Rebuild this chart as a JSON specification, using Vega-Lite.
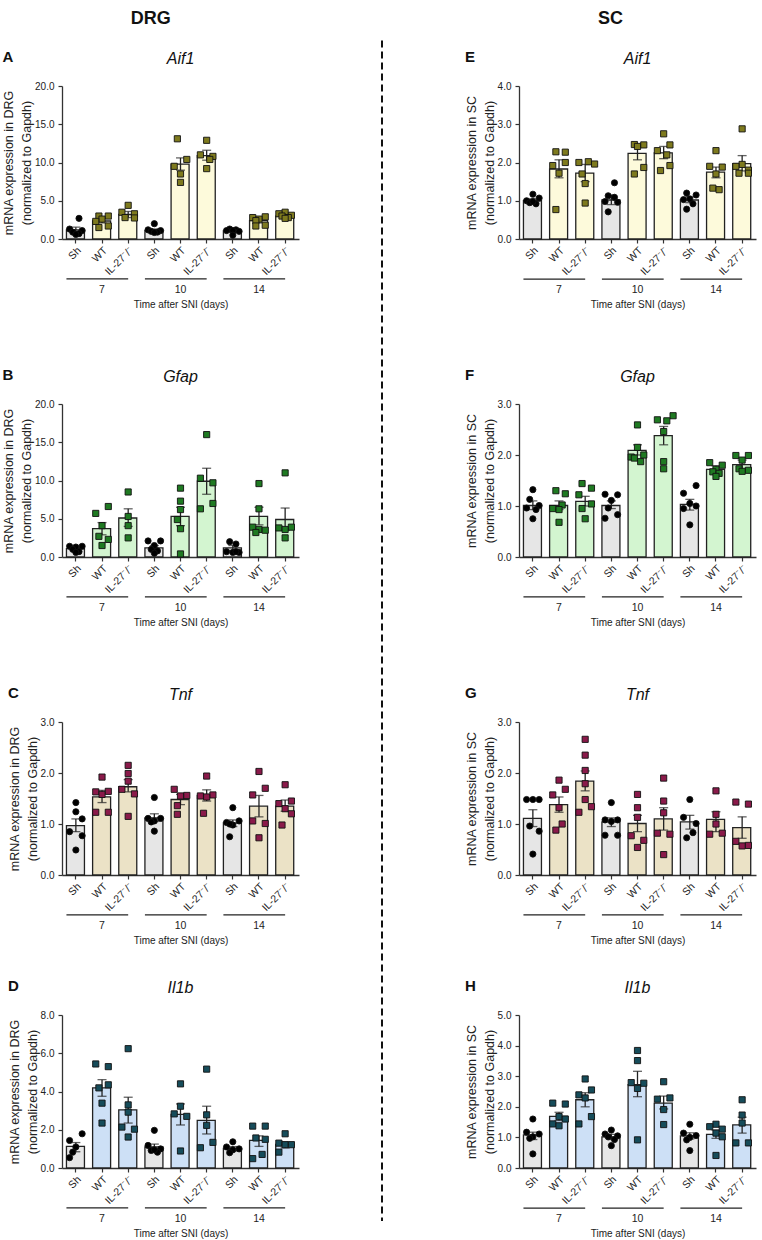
{
"$schema":"https://vega.github.io/schema/vega-lite/v6.json",
"padding":{"left":2,"top":10,"right":2,"bottom":2},
"background":"white",
"config":{"font":"Liberation Sans","view":{"stroke":null},
"axis":{"domainColor":"#333","domainWidth":1.3,"tickColor":"#333","tickWidth":1.2,"tickSize":4,"labelFontSize":10.5,"labelColor":"#222","titleColor":"#222","titleFontWeight":"normal","grid":false,"labelFont":"Liberation Sans","titleFont":"Liberation Sans"},
"axisY":{"titleFontSize":12.5,"titlePadding":1,"labelPadding":4,"labelFontSize":10,"titleLineHeight":18,"labelOverlap":false,"labelSeparation":-30,"labelFlush":false,"labelBound":false},
"axisX":{"labelAngle":-45,"titleFontSize":10,"titlePadding":22,"labelPadding":2},
"title":{"font":"Liberation Sans","color":"#111"}},
"datasets":{
"grp":[{"d":"7","a":"7|Sh","b":"7|IL","c":"7|WT"},{"d":"10","a":"10|Sh","b":"10|IL","c":"10|WT"},{"d":"14","a":"14|Sh","b":"14|IL","c":"14|WT"}],
"bars":[
{"p":"A","k":"7|Sh","g":"Sh","m":1.2,"lo":0.9,"hi":1.55},{"p":"A","k":"7|WT","g":"WT","m":2.35,"lo":2.1,"hi":2.7},{"p":"A","k":"7|IL","g":"IL","m":3.2,"lo":2.8,"hi":3.6},
{"p":"A","k":"10|Sh","g":"Sh","m":1.1,"lo":0.95,"hi":1.3},{"p":"A","k":"10|WT","g":"WT","m":9.8,"lo":9.0,"hi":10.6},{"p":"A","k":"10|IL","g":"IL","m":10.9,"lo":10.3,"hi":11.6},
{"p":"A","k":"14|Sh","g":"Sh","m":1.05,"lo":0.9,"hi":1.2},{"p":"A","k":"14|WT","g":"WT","m":2.4,"lo":2.1,"hi":2.7},{"p":"A","k":"14|IL","g":"IL","m":3.0,"lo":2.8,"hi":3.2},
{"p":"B","k":"7|Sh","g":"Sh","m":1.1,"lo":0.9,"hi":1.3},{"p":"B","k":"7|WT","g":"WT","m":3.7,"lo":2.9,"hi":4.5},{"p":"B","k":"7|IL","g":"IL","m":5.1,"lo":4.0,"hi":6.3},
{"p":"B","k":"10|Sh","g":"Sh","m":1.2,"lo":0.8,"hi":1.5},{"p":"B","k":"10|WT","g":"WT","m":5.3,"lo":4.1,"hi":6.5},{"p":"B","k":"10|IL","g":"IL","m":9.9,"lo":8.2,"hi":11.6},
{"p":"B","k":"14|Sh","g":"Sh","m":1.2,"lo":0.8,"hi":1.5},{"p":"B","k":"14|WT","g":"WT","m":5.3,"lo":4.2,"hi":6.5},{"p":"B","k":"14|IL","g":"IL","m":4.9,"lo":3.5,"hi":6.4},
{"p":"C","k":"7|Sh","g":"Sh","m":0.97,"lo":0.85,"hi":1.1},{"p":"C","k":"7|WT","g":"WT","m":1.53,"lo":1.42,"hi":1.66},{"p":"C","k":"7|IL","g":"IL","m":1.73,"lo":1.63,"hi":1.87},
{"p":"C","k":"10|Sh","g":"Sh","m":1.12,"lo":1.05,"hi":1.2},{"p":"C","k":"10|WT","g":"WT","m":1.48,"lo":1.38,"hi":1.58},{"p":"C","k":"10|IL","g":"IL","m":1.56,"lo":1.45,"hi":1.67},
{"p":"C","k":"14|Sh","g":"Sh","m":1.02,"lo":0.95,"hi":1.08},{"p":"C","k":"14|WT","g":"WT","m":1.35,"lo":1.14,"hi":1.56},{"p":"C","k":"14|IL","g":"IL","m":1.35,"lo":1.25,"hi":1.47},
{"p":"D","k":"7|Sh","g":"Sh","m":1.13,"lo":0.85,"hi":1.33},{"p":"D","k":"7|WT","g":"WT","m":4.19,"lo":3.75,"hi":4.62},{"p":"D","k":"7|IL","g":"IL","m":3.04,"lo":2.35,"hi":3.7},
{"p":"D","k":"10|Sh","g":"Sh","m":1.1,"lo":0.95,"hi":1.25},{"p":"D","k":"10|WT","g":"WT","m":2.8,"lo":2.25,"hi":3.35},{"p":"D","k":"10|IL","g":"IL","m":2.49,"lo":1.78,"hi":3.23},
{"p":"D","k":"14|Sh","g":"Sh","m":1.02,"lo":0.9,"hi":1.12},{"p":"D","k":"14|WT","g":"WT","m":1.44,"lo":1.13,"hi":1.68},{"p":"D","k":"14|IL","g":"IL","m":1.23,"lo":1.05,"hi":1.35},
{"p":"E","k":"7|Sh","g":"Sh","m":1.0,"lo":0.95,"hi":1.05},{"p":"E","k":"7|WT","g":"WT","m":1.83,"lo":1.6,"hi":2.07},{"p":"E","k":"7|IL","g":"IL","m":1.72,"lo":1.5,"hi":1.95},
{"p":"E","k":"10|Sh","g":"Sh","m":1.02,"lo":0.9,"hi":1.15},{"p":"E","k":"10|WT","g":"WT","m":2.24,"lo":2.07,"hi":2.42},{"p":"E","k":"10|IL","g":"IL","m":2.25,"lo":2.1,"hi":2.42},
{"p":"E","k":"14|Sh","g":"Sh","m":1.02,"lo":0.95,"hi":1.1},{"p":"E","k":"14|WT","g":"WT","m":1.75,"lo":1.6,"hi":1.88},{"p":"E","k":"14|IL","g":"IL","m":1.97,"lo":1.78,"hi":2.18},
{"p":"F","k":"7|Sh","g":"Sh","m":1.01,"lo":0.93,"hi":1.1},{"p":"F","k":"7|WT","g":"WT","m":1.01,"lo":0.93,"hi":1.1},{"p":"F","k":"7|IL","g":"IL","m":1.09,"lo":1.0,"hi":1.19},
{"p":"F","k":"10|Sh","g":"Sh","m":1.01,"lo":0.95,"hi":1.1},{"p":"F","k":"10|WT","g":"WT","m":2.09,"lo":2.0,"hi":2.2},{"p":"F","k":"10|IL","g":"IL","m":2.38,"lo":2.2,"hi":2.56},
{"p":"F","k":"14|Sh","g":"Sh","m":1.03,"lo":0.92,"hi":1.13},{"p":"F","k":"14|WT","g":"WT","m":1.72,"lo":1.65,"hi":1.79},{"p":"F","k":"14|IL","g":"IL","m":1.81,"lo":1.72,"hi":1.9},
{"p":"G","k":"7|Sh","g":"Sh","m":1.11,"lo":0.95,"hi":1.28},{"p":"G","k":"7|WT","g":"WT","m":1.38,"lo":1.23,"hi":1.53},{"p":"G","k":"7|IL","g":"IL","m":1.84,"lo":1.65,"hi":2.04},
{"p":"G","k":"10|Sh","g":"Sh","m":1.04,"lo":0.95,"hi":1.12},{"p":"G","k":"10|WT","g":"WT","m":1.01,"lo":0.85,"hi":1.17},{"p":"G","k":"10|IL","g":"IL","m":1.1,"lo":0.88,"hi":1.32},
{"p":"G","k":"14|Sh","g":"Sh","m":1.04,"lo":0.9,"hi":1.17},{"p":"G","k":"14|WT","g":"WT","m":1.09,"lo":0.85,"hi":1.24},{"p":"G","k":"14|IL","g":"IL","m":0.93,"lo":0.72,"hi":1.14},
{"p":"H","k":"7|Sh","g":"Sh","m":1.08,"lo":0.93,"hi":1.17},{"p":"H","k":"7|WT","g":"WT","m":1.69,"lo":1.55,"hi":1.82},{"p":"H","k":"7|IL","g":"IL","m":2.23,"lo":2.0,"hi":2.46},
{"p":"H","k":"10|Sh","g":"Sh","m":1.02,"lo":0.93,"hi":1.1},{"p":"H","k":"10|WT","g":"WT","m":2.72,"lo":2.33,"hi":3.16},{"p":"H","k":"10|IL","g":"IL","m":2.12,"lo":1.93,"hi":2.35},
{"p":"H","k":"14|Sh","g":"Sh","m":1.05,"lo":0.95,"hi":1.15},{"p":"H","k":"14|WT","g":"WT","m":1.1,"lo":0.97,"hi":1.24},{"p":"H","k":"14|IL","g":"IL","m":1.41,"lo":1.14,"hi":1.66}
],
"pts":[
{"p":"A","k":"7|Sh","g":"Sh","v":2.7,"r":5},{"p":"A","k":"7|Sh","g":"Sh","v":1.3,"r":2},{"p":"A","k":"7|Sh","g":"Sh","v":1.1,"r":6},{"p":"A","k":"7|Sh","g":"Sh","v":0.9,"r":3},{"p":"A","k":"7|Sh","g":"Sh","v":0.7,"r":5},{"p":"A","k":"7|Sh","g":"Sh","v":0.6,"r":4},
{"p":"A","k":"7|WT","g":"WT","v":3.0,"r":3},{"p":"A","k":"7|WT","g":"WT","v":3.0,"r":6},{"p":"A","k":"7|WT","g":"WT","v":2.6,"r":4},{"p":"A","k":"7|WT","g":"WT","v":2.3,"r":2},{"p":"A","k":"7|WT","g":"WT","v":1.7,"r":6},{"p":"A","k":"7|WT","g":"WT","v":1.5,"r":3},
{"p":"A","k":"7|IL","g":"IL","v":4.4,"r":4},{"p":"A","k":"7|IL","g":"IL","v":3.5,"r":2},{"p":"A","k":"7|IL","g":"IL","v":3.3,"r":6},{"p":"A","k":"7|IL","g":"IL","v":2.8,"r":3},{"p":"A","k":"7|IL","g":"IL","v":2.75,"r":6},
{"p":"A","k":"10|Sh","g":"Sh","v":2.0,"r":4},{"p":"A","k":"10|Sh","g":"Sh","v":1.2,"r":2},{"p":"A","k":"10|Sh","g":"Sh","v":1.1,"r":6},{"p":"A","k":"10|Sh","g":"Sh","v":1.0,"r":3},{"p":"A","k":"10|Sh","g":"Sh","v":0.9,"r":5},{"p":"A","k":"10|Sh","g":"Sh","v":0.85,"r":4},
{"p":"A","k":"10|WT","g":"WT","v":13.1,"r":3},{"p":"A","k":"10|WT","g":"WT","v":10.4,"r":6},{"p":"A","k":"10|WT","g":"WT","v":9.5,"r":2},{"p":"A","k":"10|WT","g":"WT","v":8.5,"r":4},{"p":"A","k":"10|WT","g":"WT","v":7.4,"r":4},
{"p":"A","k":"10|IL","g":"IL","v":12.9,"r":4},{"p":"A","k":"10|IL","g":"IL","v":11.0,"r":2},{"p":"A","k":"10|IL","g":"IL","v":10.8,"r":6},{"p":"A","k":"10|IL","g":"IL","v":10.4,"r":5},{"p":"A","k":"10|IL","g":"IL","v":9.2,"r":4},
{"p":"A","k":"14|Sh","g":"Sh","v":1.3,"r":3},{"p":"A","k":"14|Sh","g":"Sh","v":1.2,"r":5},{"p":"A","k":"14|Sh","g":"Sh","v":1.1,"r":2},{"p":"A","k":"14|Sh","g":"Sh","v":1.0,"r":6},{"p":"A","k":"14|Sh","g":"Sh","v":1.1,"r":4},{"p":"A","k":"14|Sh","g":"Sh","v":0.5,"r":4},
{"p":"A","k":"14|WT","g":"WT","v":2.9,"r":6},{"p":"A","k":"14|WT","g":"WT","v":2.8,"r":2},{"p":"A","k":"14|WT","g":"WT","v":2.6,"r":4},{"p":"A","k":"14|WT","g":"WT","v":2.4,"r":3},{"p":"A","k":"14|WT","g":"WT","v":1.8,"r":6},{"p":"A","k":"14|WT","g":"WT","v":1.7,"r":3},
{"p":"A","k":"14|IL","g":"IL","v":3.5,"r":4},{"p":"A","k":"14|IL","g":"IL","v":3.3,"r":2},{"p":"A","k":"14|IL","g":"IL","v":3.1,"r":6},{"p":"A","k":"14|IL","g":"IL","v":3.0,"r":3},{"p":"A","k":"14|IL","g":"IL","v":2.8,"r":5},{"p":"A","k":"14|IL","g":"IL","v":2.7,"r":4},
{"p":"B","k":"7|Sh","g":"Sh","v":1.4,"r":2},{"p":"B","k":"7|Sh","g":"Sh","v":1.4,"r":6},{"p":"B","k":"7|Sh","g":"Sh","v":1.3,"r":4},{"p":"B","k":"7|Sh","g":"Sh","v":1.0,"r":3},{"p":"B","k":"7|Sh","g":"Sh","v":0.7,"r":5},{"p":"B","k":"7|Sh","g":"Sh","v":0.6,"r":4},
{"p":"B","k":"7|WT","g":"WT","v":6.6,"r":6},{"p":"B","k":"7|WT","g":"WT","v":5.7,"r":2},{"p":"B","k":"7|WT","g":"WT","v":4.1,"r":4},{"p":"B","k":"7|WT","g":"WT","v":2.7,"r":3},{"p":"B","k":"7|WT","g":"WT","v":2.3,"r":6},{"p":"B","k":"7|WT","g":"WT","v":1.5,"r":4},
{"p":"B","k":"7|IL","g":"IL","v":8.5,"r":4},{"p":"B","k":"7|IL","g":"IL","v":5.3,"r":4},{"p":"B","k":"7|IL","g":"IL","v":4.1,"r":4},{"p":"B","k":"7|IL","g":"IL","v":2.5,"r":4},
{"p":"B","k":"10|Sh","g":"Sh","v":2.1,"r":2},{"p":"B","k":"10|Sh","g":"Sh","v":2.1,"r":6},{"p":"B","k":"10|Sh","g":"Sh","v":1.5,"r":4},{"p":"B","k":"10|Sh","g":"Sh","v":1.0,"r":3},{"p":"B","k":"10|Sh","g":"Sh","v":0.8,"r":5},{"p":"B","k":"10|Sh","g":"Sh","v":0.5,"r":4},
{"p":"B","k":"10|WT","g":"WT","v":9.0,"r":4},{"p":"B","k":"10|WT","g":"WT","v":7.3,"r":4},{"p":"B","k":"10|WT","g":"WT","v":6.2,"r":4},{"p":"B","k":"10|WT","g":"WT","v":4.9,"r":3},{"p":"B","k":"10|WT","g":"WT","v":3.7,"r":4},{"p":"B","k":"10|WT","g":"WT","v":0.4,"r":4},
{"p":"B","k":"10|IL","g":"IL","v":16.0,"r":4},{"p":"B","k":"10|IL","g":"IL","v":10.3,"r":2},{"p":"B","k":"10|IL","g":"IL","v":9.7,"r":6},{"p":"B","k":"10|IL","g":"IL","v":7.0,"r":6},{"p":"B","k":"10|IL","g":"IL","v":6.3,"r":2},
{"p":"B","k":"14|Sh","g":"Sh","v":2.0,"r":3},{"p":"B","k":"14|Sh","g":"Sh","v":1.7,"r":5},{"p":"B","k":"14|Sh","g":"Sh","v":0.7,"r":2},{"p":"B","k":"14|Sh","g":"Sh","v":0.6,"r":4},{"p":"B","k":"14|Sh","g":"Sh","v":0.6,"r":6},{"p":"B","k":"14|Sh","g":"Sh","v":0.7,"r":5},
{"p":"B","k":"14|WT","g":"WT","v":9.6,"r":4},{"p":"B","k":"14|WT","g":"WT","v":6.3,"r":4},{"p":"B","k":"14|WT","g":"WT","v":3.9,"r":2},{"p":"B","k":"14|WT","g":"WT","v":3.6,"r":4},{"p":"B","k":"14|WT","g":"WT","v":3.2,"r":3},{"p":"B","k":"14|WT","g":"WT","v":3.5,"r":6},
{"p":"B","k":"14|IL","g":"IL","v":11.0,"r":4},{"p":"B","k":"14|IL","g":"IL","v":3.9,"r":6},{"p":"B","k":"14|IL","g":"IL","v":3.8,"r":2},{"p":"B","k":"14|IL","g":"IL","v":3.6,"r":4},{"p":"B","k":"14|IL","g":"IL","v":2.5,"r":4},
{"p":"C","k":"7|Sh","g":"Sh","v":1.42,"r":4},{"p":"C","k":"7|Sh","g":"Sh","v":1.24,"r":4},{"p":"C","k":"7|Sh","g":"Sh","v":1.1,"r":6},{"p":"C","k":"7|Sh","g":"Sh","v":0.85,"r":2},{"p":"C","k":"7|Sh","g":"Sh","v":0.77,"r":6},{"p":"C","k":"7|Sh","g":"Sh","v":0.49,"r":4},
{"p":"C","k":"7|WT","g":"WT","v":1.92,"r":4},{"p":"C","k":"7|WT","g":"WT","v":1.64,"r":6},{"p":"C","k":"7|WT","g":"WT","v":1.63,"r":2},{"p":"C","k":"7|WT","g":"WT","v":1.58,"r":4},{"p":"C","k":"7|WT","g":"WT","v":1.23,"r":2},{"p":"C","k":"7|WT","g":"WT","v":1.23,"r":6},
{"p":"C","k":"7|IL","g":"IL","v":2.15,"r":4},{"p":"C","k":"7|IL","g":"IL","v":1.99,"r":4},{"p":"C","k":"7|IL","g":"IL","v":1.84,"r":4},{"p":"C","k":"7|IL","g":"IL","v":1.68,"r":2},{"p":"C","k":"7|IL","g":"IL","v":1.59,"r":6},{"p":"C","k":"7|IL","g":"IL","v":1.15,"r":4},
{"p":"C","k":"10|Sh","g":"Sh","v":1.52,"r":4},{"p":"C","k":"10|Sh","g":"Sh","v":1.11,"r":2},{"p":"C","k":"10|Sh","g":"Sh","v":1.11,"r":6},{"p":"C","k":"10|Sh","g":"Sh","v":1.06,"r":4},{"p":"C","k":"10|Sh","g":"Sh","v":1.04,"r":3},{"p":"C","k":"10|Sh","g":"Sh","v":0.86,"r":4},
{"p":"C","k":"10|WT","g":"WT","v":1.68,"r":2},{"p":"C","k":"10|WT","g":"WT","v":1.56,"r":6},{"p":"C","k":"10|WT","g":"WT","v":1.55,"r":4},{"p":"C","k":"10|WT","g":"WT","v":1.36,"r":3},{"p":"C","k":"10|WT","g":"WT","v":1.19,"r":3},
{"p":"C","k":"10|IL","g":"IL","v":1.94,"r":4},{"p":"C","k":"10|IL","g":"IL","v":1.57,"r":6},{"p":"C","k":"10|IL","g":"IL","v":1.55,"r":2},{"p":"C","k":"10|IL","g":"IL","v":1.53,"r":4},{"p":"C","k":"10|IL","g":"IL","v":1.21,"r":3},
{"p":"C","k":"14|Sh","g":"Sh","v":1.32,"r":4},{"p":"C","k":"14|Sh","g":"Sh","v":1.06,"r":6},{"p":"C","k":"14|Sh","g":"Sh","v":1.03,"r":2},{"p":"C","k":"14|Sh","g":"Sh","v":0.98,"r":4},{"p":"C","k":"14|Sh","g":"Sh","v":1.0,"r":3},{"p":"C","k":"14|Sh","g":"Sh","v":0.75,"r":3},
{"p":"C","k":"14|WT","g":"WT","v":2.03,"r":4},{"p":"C","k":"14|WT","g":"WT","v":1.7,"r":6},{"p":"C","k":"14|WT","g":"WT","v":1.57,"r":2},{"p":"C","k":"14|WT","g":"WT","v":1.06,"r":2},{"p":"C","k":"14|WT","g":"WT","v":1.01,"r":6},{"p":"C","k":"14|WT","g":"WT","v":0.73,"r":4},
{"p":"C","k":"14|IL","g":"IL","v":1.77,"r":4},{"p":"C","k":"14|IL","g":"IL","v":1.45,"r":6},{"p":"C","k":"14|IL","g":"IL","v":1.4,"r":2},{"p":"C","k":"14|IL","g":"IL","v":1.3,"r":4},{"p":"C","k":"14|IL","g":"IL","v":1.2,"r":6},{"p":"C","k":"14|IL","g":"IL","v":0.98,"r":3},
{"p":"D","k":"7|Sh","g":"Sh","v":1.79,"r":6},{"p":"D","k":"7|Sh","g":"Sh","v":1.44,"r":2},{"p":"D","k":"7|Sh","g":"Sh","v":1.1,"r":4},{"p":"D","k":"7|Sh","g":"Sh","v":0.83,"r":3},{"p":"D","k":"7|Sh","g":"Sh","v":0.54,"r":2},
{"p":"D","k":"7|WT","g":"WT","v":5.44,"r":2},{"p":"D","k":"7|WT","g":"WT","v":5.3,"r":6},{"p":"D","k":"7|WT","g":"WT","v":4.35,"r":6},{"p":"D","k":"7|WT","g":"WT","v":4.19,"r":3},{"p":"D","k":"7|WT","g":"WT","v":3.39,"r":4},{"p":"D","k":"7|WT","g":"WT","v":2.35,"r":4},
{"p":"D","k":"7|IL","g":"IL","v":6.24,"r":4},{"p":"D","k":"7|IL","g":"IL","v":3.3,"r":4},{"p":"D","k":"7|IL","g":"IL","v":2.92,"r":4},{"p":"D","k":"7|IL","g":"IL","v":2.14,"r":2},{"p":"D","k":"7|IL","g":"IL","v":2.03,"r":6},{"p":"D","k":"7|IL","g":"IL","v":1.62,"r":4},
{"p":"D","k":"10|Sh","g":"Sh","v":1.97,"r":4},{"p":"D","k":"10|Sh","g":"Sh","v":1.18,"r":2},{"p":"D","k":"10|Sh","g":"Sh","v":1.0,"r":6},{"p":"D","k":"10|Sh","g":"Sh","v":0.92,"r":3},{"p":"D","k":"10|Sh","g":"Sh","v":0.83,"r":5},{"p":"D","k":"10|Sh","g":"Sh","v":0.95,"r":4},
{"p":"D","k":"10|WT","g":"WT","v":4.4,"r":4},{"p":"D","k":"10|WT","g":"WT","v":3.23,"r":4},{"p":"D","k":"10|WT","g":"WT","v":2.83,"r":2},{"p":"D","k":"10|WT","g":"WT","v":2.7,"r":6},{"p":"D","k":"10|WT","g":"WT","v":0.89,"r":4},
{"p":"D","k":"10|IL","g":"IL","v":5.17,"r":4},{"p":"D","k":"10|IL","g":"IL","v":2.78,"r":4},{"p":"D","k":"10|IL","g":"IL","v":2.23,"r":4},{"p":"D","k":"10|IL","g":"IL","v":1.34,"r":6},{"p":"D","k":"10|IL","g":"IL","v":1.06,"r":2},
{"p":"D","k":"14|Sh","g":"Sh","v":1.37,"r":4},{"p":"D","k":"14|Sh","g":"Sh","v":1.1,"r":2},{"p":"D","k":"14|Sh","g":"Sh","v":1.0,"r":6},{"p":"D","k":"14|Sh","g":"Sh","v":0.95,"r":4},{"p":"D","k":"14|Sh","g":"Sh","v":0.8,"r":3},
{"p":"D","k":"14|WT","g":"WT","v":2.19,"r":2},{"p":"D","k":"14|WT","g":"WT","v":2.19,"r":6},{"p":"D","k":"14|WT","g":"WT","v":1.57,"r":3},{"p":"D","k":"14|WT","g":"WT","v":1.5,"r":6},{"p":"D","k":"14|WT","g":"WT","v":0.71,"r":5},{"p":"D","k":"14|WT","g":"WT","v":0.49,"r":2},
{"p":"D","k":"14|IL","g":"IL","v":1.79,"r":4},{"p":"D","k":"14|IL","g":"IL","v":1.3,"r":2},{"p":"D","k":"14|IL","g":"IL","v":1.22,"r":4},{"p":"D","k":"14|IL","g":"IL","v":1.22,"r":6},{"p":"D","k":"14|IL","g":"IL","v":0.83,"r":2},
{"p":"E","k":"7|Sh","g":"Sh","v":1.17,"r":4},{"p":"E","k":"7|Sh","g":"Sh","v":1.07,"r":6},{"p":"E","k":"7|Sh","g":"Sh","v":1.0,"r":2},{"p":"E","k":"7|Sh","g":"Sh","v":0.95,"r":3},{"p":"E","k":"7|Sh","g":"Sh","v":0.92,"r":5},{"p":"E","k":"7|Sh","g":"Sh","v":0.98,"r":4},
{"p":"E","k":"7|WT","g":"WT","v":2.28,"r":3},{"p":"E","k":"7|WT","g":"WT","v":2.27,"r":6},{"p":"E","k":"7|WT","g":"WT","v":2.0,"r":6},{"p":"E","k":"7|WT","g":"WT","v":1.92,"r":2},{"p":"E","k":"7|WT","g":"WT","v":1.72,"r":4},{"p":"E","k":"7|WT","g":"WT","v":0.77,"r":3},
{"p":"E","k":"7|IL","g":"IL","v":2.02,"r":5},{"p":"E","k":"7|IL","g":"IL","v":2.0,"r":2},{"p":"E","k":"7|IL","g":"IL","v":1.96,"r":7},{"p":"E","k":"7|IL","g":"IL","v":1.7,"r":3},{"p":"E","k":"7|IL","g":"IL","v":1.45,"r":4},{"p":"E","k":"7|IL","g":"IL","v":0.94,"r":4},
{"p":"E","k":"10|Sh","g":"Sh","v":1.47,"r":5},{"p":"E","k":"10|Sh","g":"Sh","v":1.13,"r":3},{"p":"E","k":"10|Sh","g":"Sh","v":1.09,"r":5},{"p":"E","k":"10|Sh","g":"Sh","v":0.98,"r":2},{"p":"E","k":"10|Sh","g":"Sh","v":0.96,"r":6},{"p":"E","k":"10|Sh","g":"Sh","v":0.71,"r":3},
{"p":"E","k":"10|WT","g":"WT","v":2.47,"r":3},{"p":"E","k":"10|WT","g":"WT","v":2.46,"r":6},{"p":"E","k":"10|WT","g":"WT","v":2.42,"r":4},{"p":"E","k":"10|WT","g":"WT","v":1.87,"r":6},{"p":"E","k":"10|WT","g":"WT","v":1.7,"r":3},
{"p":"E","k":"10|IL","g":"IL","v":2.75,"r":4},{"p":"E","k":"10|IL","g":"IL","v":2.46,"r":6},{"p":"E","k":"10|IL","g":"IL","v":2.31,"r":2},{"p":"E","k":"10|IL","g":"IL","v":2.2,"r":5},{"p":"E","k":"10|IL","g":"IL","v":1.92,"r":6},{"p":"E","k":"10|IL","g":"IL","v":1.79,"r":3},
{"p":"E","k":"14|Sh","g":"Sh","v":1.2,"r":3},{"p":"E","k":"14|Sh","g":"Sh","v":1.15,"r":6},{"p":"E","k":"14|Sh","g":"Sh","v":1.05,"r":4},{"p":"E","k":"14|Sh","g":"Sh","v":1.03,"r":2},{"p":"E","k":"14|Sh","g":"Sh","v":0.92,"r":5},{"p":"E","k":"14|Sh","g":"Sh","v":0.78,"r":3},
{"p":"E","k":"14|WT","g":"WT","v":2.31,"r":4},{"p":"E","k":"14|WT","g":"WT","v":1.9,"r":2},{"p":"E","k":"14|WT","g":"WT","v":1.88,"r":6},{"p":"E","k":"14|WT","g":"WT","v":1.7,"r":4},{"p":"E","k":"14|WT","g":"WT","v":1.33,"r":3},{"p":"E","k":"14|WT","g":"WT","v":1.29,"r":5},
{"p":"E","k":"14|IL","g":"IL","v":2.88,"r":4},{"p":"E","k":"14|IL","g":"IL","v":1.95,"r":4},{"p":"E","k":"14|IL","g":"IL","v":1.9,"r":2},{"p":"E","k":"14|IL","g":"IL","v":1.8,"r":6},{"p":"E","k":"14|IL","g":"IL","v":1.72,"r":3},{"p":"E","k":"14|IL","g":"IL","v":1.72,"r":6},
{"p":"F","k":"7|Sh","g":"Sh","v":1.32,"r":4},{"p":"F","k":"7|Sh","g":"Sh","v":1.13,"r":3},{"p":"F","k":"7|Sh","g":"Sh","v":1.01,"r":6},{"p":"F","k":"7|Sh","g":"Sh","v":0.96,"r":2},{"p":"F","k":"7|Sh","g":"Sh","v":0.93,"r":5},{"p":"F","k":"7|Sh","g":"Sh","v":0.75,"r":4},
{"p":"F","k":"7|WT","g":"WT","v":1.3,"r":3},{"p":"F","k":"7|WT","g":"WT","v":1.24,"r":6},{"p":"F","k":"7|WT","g":"WT","v":1.02,"r":5},{"p":"F","k":"7|WT","g":"WT","v":0.95,"r":2},{"p":"F","k":"7|WT","g":"WT","v":0.93,"r":4},{"p":"F","k":"7|WT","g":"WT","v":0.68,"r":4},
{"p":"F","k":"7|IL","g":"IL","v":1.44,"r":3},{"p":"F","k":"7|IL","g":"IL","v":1.35,"r":6},{"p":"F","k":"7|IL","g":"IL","v":1.22,"r":2},{"p":"F","k":"7|IL","g":"IL","v":1.04,"r":6},{"p":"F","k":"7|IL","g":"IL","v":0.95,"r":3},{"p":"F","k":"7|IL","g":"IL","v":0.75,"r":4},
{"p":"F","k":"10|Sh","g":"Sh","v":1.23,"r":2},{"p":"F","k":"10|Sh","g":"Sh","v":1.22,"r":6},{"p":"F","k":"10|Sh","g":"Sh","v":1.11,"r":4},{"p":"F","k":"10|Sh","g":"Sh","v":0.96,"r":3},{"p":"F","k":"10|Sh","g":"Sh","v":0.83,"r":6},{"p":"F","k":"10|Sh","g":"Sh","v":0.76,"r":2},
{"p":"F","k":"10|WT","g":"WT","v":2.59,"r":4},{"p":"F","k":"10|WT","g":"WT","v":2.15,"r":4},{"p":"F","k":"10|WT","g":"WT","v":2.0,"r":6},{"p":"F","k":"10|WT","g":"WT","v":1.96,"r":2},{"p":"F","k":"10|WT","g":"WT","v":1.94,"r":3},{"p":"F","k":"10|WT","g":"WT","v":1.87,"r":5},
{"p":"F","k":"10|IL","g":"IL","v":2.77,"r":7},{"p":"F","k":"10|IL","g":"IL","v":2.69,"r":2},{"p":"F","k":"10|IL","g":"IL","v":2.67,"r":5},{"p":"F","k":"10|IL","g":"IL","v":2.46,"r":4},{"p":"F","k":"10|IL","g":"IL","v":1.87,"r":4},{"p":"F","k":"10|IL","g":"IL","v":1.73,"r":4},
{"p":"F","k":"14|Sh","g":"Sh","v":1.4,"r":6},{"p":"F","k":"14|Sh","g":"Sh","v":1.25,"r":2},{"p":"F","k":"14|Sh","g":"Sh","v":1.05,"r":4},{"p":"F","k":"14|Sh","g":"Sh","v":1.0,"r":6},{"p":"F","k":"14|Sh","g":"Sh","v":0.95,"r":2},{"p":"F","k":"14|Sh","g":"Sh","v":0.63,"r":4},
{"p":"F","k":"14|WT","g":"WT","v":1.85,"r":2},{"p":"F","k":"14|WT","g":"WT","v":1.8,"r":6},{"p":"F","k":"14|WT","g":"WT","v":1.72,"r":4},{"p":"F","k":"14|WT","g":"WT","v":1.67,"r":3},{"p":"F","k":"14|WT","g":"WT","v":1.64,"r":5},{"p":"F","k":"14|WT","g":"WT","v":1.58,"r":4},
{"p":"F","k":"14|IL","g":"IL","v":1.99,"r":2},{"p":"F","k":"14|IL","g":"IL","v":1.99,"r":6},{"p":"F","k":"14|IL","g":"IL","v":1.9,"r":4},{"p":"F","k":"14|IL","g":"IL","v":1.73,"r":3},{"p":"F","k":"14|IL","g":"IL","v":1.7,"r":6},{"p":"F","k":"14|IL","g":"IL","v":1.68,"r":4},
{"p":"G","k":"7|Sh","g":"Sh","v":1.48,"r":2},{"p":"G","k":"7|Sh","g":"Sh","v":1.48,"r":4},{"p":"G","k":"7|Sh","g":"Sh","v":1.48,"r":6},{"p":"G","k":"7|Sh","g":"Sh","v":0.96,"r":3},{"p":"G","k":"7|Sh","g":"Sh","v":0.86,"r":6},{"p":"G","k":"7|Sh","g":"Sh","v":0.41,"r":4},
{"p":"G","k":"7|WT","g":"WT","v":1.86,"r":4},{"p":"G","k":"7|WT","g":"WT","v":1.68,"r":6},{"p":"G","k":"7|WT","g":"WT","v":1.57,"r":2},{"p":"G","k":"7|WT","g":"WT","v":1.32,"r":4},{"p":"G","k":"7|WT","g":"WT","v":1.0,"r":5},{"p":"G","k":"7|WT","g":"WT","v":0.88,"r":3},
{"p":"G","k":"7|IL","g":"IL","v":2.66,"r":4},{"p":"G","k":"7|IL","g":"IL","v":2.35,"r":4},{"p":"G","k":"7|IL","g":"IL","v":2.05,"r":4},{"p":"G","k":"7|IL","g":"IL","v":1.79,"r":4},{"p":"G","k":"7|IL","g":"IL","v":1.48,"r":4},{"p":"G","k":"7|IL","g":"IL","v":1.34,"r":6},{"p":"G","k":"7|IL","g":"IL","v":1.23,"r":2},
{"p":"G","k":"10|Sh","g":"Sh","v":1.42,"r":4},{"p":"G","k":"10|Sh","g":"Sh","v":1.08,"r":2},{"p":"G","k":"10|Sh","g":"Sh","v":1.08,"r":6},{"p":"G","k":"10|Sh","g":"Sh","v":1.05,"r":4},{"p":"G","k":"10|Sh","g":"Sh","v":0.78,"r":2},{"p":"G","k":"10|Sh","g":"Sh","v":0.78,"r":6},
{"p":"G","k":"10|WT","g":"WT","v":1.58,"r":4},{"p":"G","k":"10|WT","g":"WT","v":1.32,"r":4},{"p":"G","k":"10|WT","g":"WT","v":1.13,"r":4},{"p":"G","k":"10|WT","g":"WT","v":0.77,"r":2},{"p":"G","k":"10|WT","g":"WT","v":0.68,"r":6},{"p":"G","k":"10|WT","g":"WT","v":0.54,"r":4},
{"p":"G","k":"10|IL","g":"IL","v":1.9,"r":4},{"p":"G","k":"10|IL","g":"IL","v":1.45,"r":4},{"p":"G","k":"10|IL","g":"IL","v":1.22,"r":4},{"p":"G","k":"10|IL","g":"IL","v":0.82,"r":2},{"p":"G","k":"10|IL","g":"IL","v":0.8,"r":6},{"p":"G","k":"10|IL","g":"IL","v":0.4,"r":4},
{"p":"G","k":"14|Sh","g":"Sh","v":1.48,"r":4},{"p":"G","k":"14|Sh","g":"Sh","v":1.13,"r":2},{"p":"G","k":"14|Sh","g":"Sh","v":1.01,"r":6},{"p":"G","k":"14|Sh","g":"Sh","v":0.83,"r":5},{"p":"G","k":"14|Sh","g":"Sh","v":0.73,"r":3},
{"p":"G","k":"14|WT","g":"WT","v":1.65,"r":4},{"p":"G","k":"14|WT","g":"WT","v":1.19,"r":4},{"p":"G","k":"14|WT","g":"WT","v":1.0,"r":4},{"p":"G","k":"14|WT","g":"WT","v":0.82,"r":6},{"p":"G","k":"14|WT","g":"WT","v":0.8,"r":2},
{"p":"G","k":"14|IL","g":"IL","v":1.43,"r":2},{"p":"G","k":"14|IL","g":"IL","v":1.39,"r":6},{"p":"G","k":"14|IL","g":"IL","v":0.66,"r":2},{"p":"G","k":"14|IL","g":"IL","v":0.58,"r":6},{"p":"G","k":"14|IL","g":"IL","v":0.57,"r":4},
{"p":"H","k":"7|Sh","g":"Sh","v":1.6,"r":4},{"p":"H","k":"7|Sh","g":"Sh","v":1.17,"r":2},{"p":"H","k":"7|Sh","g":"Sh","v":1.11,"r":6},{"p":"H","k":"7|Sh","g":"Sh","v":1.02,"r":4},{"p":"H","k":"7|Sh","g":"Sh","v":0.97,"r":3},{"p":"H","k":"7|Sh","g":"Sh","v":0.46,"r":4},
{"p":"H","k":"7|WT","g":"WT","v":2.12,"r":2},{"p":"H","k":"7|WT","g":"WT","v":2.09,"r":6},{"p":"H","k":"7|WT","g":"WT","v":1.68,"r":4},{"p":"H","k":"7|WT","g":"WT","v":1.6,"r":6},{"p":"H","k":"7|WT","g":"WT","v":1.44,"r":2},{"p":"H","k":"7|WT","g":"WT","v":1.38,"r":4},
{"p":"H","k":"7|IL","g":"IL","v":2.91,"r":4},{"p":"H","k":"7|IL","g":"IL","v":2.55,"r":6},{"p":"H","k":"7|IL","g":"IL","v":2.39,"r":2},{"p":"H","k":"7|IL","g":"IL","v":2.29,"r":4},{"p":"H","k":"7|IL","g":"IL","v":1.68,"r":6},{"p":"H","k":"7|IL","g":"IL","v":1.44,"r":2},
{"p":"H","k":"10|Sh","g":"Sh","v":1.24,"r":4},{"p":"H","k":"10|Sh","g":"Sh","v":1.11,"r":2},{"p":"H","k":"10|Sh","g":"Sh","v":1.05,"r":6},{"p":"H","k":"10|Sh","g":"Sh","v":1.02,"r":3},{"p":"H","k":"10|Sh","g":"Sh","v":0.93,"r":5},{"p":"H","k":"10|Sh","g":"Sh","v":0.73,"r":4},
{"p":"H","k":"10|WT","g":"WT","v":3.84,"r":4},{"p":"H","k":"10|WT","g":"WT","v":3.51,"r":4},{"p":"H","k":"10|WT","g":"WT","v":2.79,"r":2},{"p":"H","k":"10|WT","g":"WT","v":2.77,"r":6},{"p":"H","k":"10|WT","g":"WT","v":2.6,"r":4},{"p":"H","k":"10|WT","g":"WT","v":0.92,"r":4},
{"p":"H","k":"10|IL","g":"IL","v":2.82,"r":4},{"p":"H","k":"10|IL","g":"IL","v":2.29,"r":6},{"p":"H","k":"10|IL","g":"IL","v":2.25,"r":2},{"p":"H","k":"10|IL","g":"IL","v":1.91,"r":4},{"p":"H","k":"10|IL","g":"IL","v":1.42,"r":4},
{"p":"H","k":"14|Sh","g":"Sh","v":1.43,"r":4},{"p":"H","k":"14|Sh","g":"Sh","v":1.14,"r":2},{"p":"H","k":"14|Sh","g":"Sh","v":1.06,"r":6},{"p":"H","k":"14|Sh","g":"Sh","v":1.0,"r":4},{"p":"H","k":"14|Sh","g":"Sh","v":0.92,"r":3},{"p":"H","k":"14|Sh","g":"Sh","v":0.57,"r":4},
{"p":"H","k":"14|WT","g":"WT","v":1.43,"r":4},{"p":"H","k":"14|WT","g":"WT","v":1.35,"r":2},{"p":"H","k":"14|WT","g":"WT","v":1.27,"r":6},{"p":"H","k":"14|WT","g":"WT","v":1.14,"r":4},{"p":"H","k":"14|WT","g":"WT","v":1.02,"r":6},{"p":"H","k":"14|WT","g":"WT","v":0.41,"r":4},
{"p":"H","k":"14|IL","g":"IL","v":2.23,"r":4},{"p":"H","k":"14|IL","g":"IL","v":1.73,"r":4},{"p":"H","k":"14|IL","g":"IL","v":1.47,"r":4},{"p":"H","k":"14|IL","g":"IL","v":0.82,"r":2},{"p":"H","k":"14|IL","g":"IL","v":0.82,"r":6}
]},
"resolve":{"scale":{"color":"independent","fill":"independent","shape":"independent"}},
"hconcat":[
{"title":{"text":"DRG","fontSize":18,"fontWeight":"bold","anchor":"middle","offset":22},
 "spacing":33,
 "resolve":{"scale":{"color":"independent","fill":"independent","shape":"independent"}},
 "vconcat":[
 {"spacing":58,"resolve":{"scale":{"color":"independent","fill":"independent","shape":"independent"}},"vconcat":[
  {"title":{"text":"A","anchor":"start","frame":"bounds","offset":-14,"fontSize":15,"fontWeight":"bold"},"vconcat":[{"title":{"text":"Aif1","fontStyle":"italic","fontSize":16,"fontWeight":"normal","offset":14},"width":237,"height":153,"layer":[
   {"data":{"name":"bars"},"transform":[{"filter":"datum.p=='A'"}],"mark":{"type":"bar","stroke":"#222","strokeWidth":1.3},"encoding":{"x":{"field":"k","type":"nominal","scale":{"domain":["7|Sh","7|WT","7|IL","10|Sh","10|WT","10|IL","14|Sh","14|WT","14|IL"],"paddingInner":0.28,"paddingOuter":0.17},"axis":{"title":"Time after SNI (days)","labelExpr":"split(datum.value,'|')[1]=='IL' ? 'IL-27⁻/⁻' : split(datum.value,'|')[1]"}},"y":{"field":"m","type":"quantitative","scale":{"domain":[0,20],"nice":false},"axis":{"values":[0,5,10,15,20],"tickCount":5,"labelOverlap":false,"format":".1f","title":["mRNA expression in DRG","(normalized to Gapdh)"]}},"color":{"field":"g","type":"nominal","scale":{"domain":["Sh","WT","IL"],"range":["#e6e6e6","#fdfadb","#fdfadb"]},"legend":null}}},
   {"data":{"name":"bars"},"transform":[{"filter":"datum.p=='A'"}],"mark":{"type":"rule","color":"#222","strokeWidth":1.3},"encoding":{"x":{"field":"k","type":"nominal"},"y":{"field":"lo","type":"quantitative"},"y2":{"field":"hi"}}},
   {"data":{"name":"bars"},"transform":[{"filter":"datum.p=='A'"}],"mark":{"type":"tick","size":9,"thickness":1.3,"color":"#222"},"encoding":{"x":{"field":"k","type":"nominal"},"y":{"field":"lo","type":"quantitative"}}},
   {"data":{"name":"bars"},"transform":[{"filter":"datum.p=='A'"}],"mark":{"type":"tick","size":9,"thickness":1.3,"color":"#222"},"encoding":{"x":{"field":"k","type":"nominal"},"y":{"field":"hi","type":"quantitative"}}},
   {"data":{"name":"pts"},"transform":[{"filter":"datum.p=='A'"}],"mark":{"type":"point","filled":true,"size":38,"stroke":"#111","strokeWidth":0.9,"opacity":1},"encoding":{"x":{"field":"k","type":"nominal"},"xOffset":{"field":"r","type":"ordinal","scale":{"domain":[1,2,3,4,5,6,7],"paddingInner":0,"paddingOuter":0}},"y":{"field":"v","type":"quantitative"},"fill":{"field":"g","type":"nominal","scale":{"domain":["Sh","WT","IL"],"range":["#000000","#7e7a1e","#7e7a1e"]},"legend":null},"shape":{"field":"g","type":"nominal","scale":{"domain":["Sh","WT","IL"],"range":["circle","square","square"]},"legend":null}}},
   {"data":{"name":"grp"},"mark":{"type":"rule","color":"#222","strokeWidth":1.2},"encoding":{"x":{"field":"a","type":"nominal","bandPosition":0},"x2":{"field":"b"},"y":{"datum":-5.2}}},
   {"data":{"name":"grp"},"mark":{"type":"text","fontSize":10.5,"color":"#222"},"encoding":{"x":{"field":"c","type":"nominal"},"y":{"datum":-6.7},"text":{"field":"d"}}}
  ]}]},
  {"title":{"text":"B","anchor":"start","frame":"bounds","offset":-14,"fontSize":15,"fontWeight":"bold"},"vconcat":[{"title":{"text":"Gfap","fontStyle":"italic","fontSize":16,"fontWeight":"normal","offset":14},"width":237,"height":153,"layer":[
   {"data":{"name":"bars"},"transform":[{"filter":"datum.p=='B'"}],"mark":{"type":"bar","stroke":"#222","strokeWidth":1.3},"encoding":{"x":{"field":"k","type":"nominal","scale":{"domain":["7|Sh","7|WT","7|IL","10|Sh","10|WT","10|IL","14|Sh","14|WT","14|IL"],"paddingInner":0.28,"paddingOuter":0.17},"axis":{"title":"Time after SNI (days)","labelExpr":"split(datum.value,'|')[1]=='IL' ? 'IL-27⁻/⁻' : split(datum.value,'|')[1]"}},"y":{"field":"m","type":"quantitative","scale":{"domain":[0,20],"nice":false},"axis":{"values":[0,5,10,15,20],"tickCount":5,"labelOverlap":false,"format":".1f","title":["mRNA expression in DRG","(normalized to Gapdh)"]}},"color":{"field":"g","type":"nominal","scale":{"domain":["Sh","WT","IL"],"range":["#e6e6e6","#d3f5d0","#d3f5d0"]},"legend":null}}},
   {"data":{"name":"bars"},"transform":[{"filter":"datum.p=='B'"}],"mark":{"type":"rule","color":"#222","strokeWidth":1.3},"encoding":{"x":{"field":"k","type":"nominal"},"y":{"field":"lo","type":"quantitative"},"y2":{"field":"hi"}}},
   {"data":{"name":"bars"},"transform":[{"filter":"datum.p=='B'"}],"mark":{"type":"tick","size":9,"thickness":1.3,"color":"#222"},"encoding":{"x":{"field":"k","type":"nominal"},"y":{"field":"lo","type":"quantitative"}}},
   {"data":{"name":"bars"},"transform":[{"filter":"datum.p=='B'"}],"mark":{"type":"tick","size":9,"thickness":1.3,"color":"#222"},"encoding":{"x":{"field":"k","type":"nominal"},"y":{"field":"hi","type":"quantitative"}}},
   {"data":{"name":"pts"},"transform":[{"filter":"datum.p=='B'"}],"mark":{"type":"point","filled":true,"size":38,"stroke":"#111","strokeWidth":0.9,"opacity":1},"encoding":{"x":{"field":"k","type":"nominal"},"xOffset":{"field":"r","type":"ordinal","scale":{"domain":[1,2,3,4,5,6,7],"paddingInner":0,"paddingOuter":0}},"y":{"field":"v","type":"quantitative"},"fill":{"field":"g","type":"nominal","scale":{"domain":["Sh","WT","IL"],"range":["#000000","#1f7a22","#1f7a22"]},"legend":null},"shape":{"field":"g","type":"nominal","scale":{"domain":["Sh","WT","IL"],"range":["circle","square","square"]},"legend":null}}},
   {"data":{"name":"grp"},"mark":{"type":"rule","color":"#222","strokeWidth":1.2},"encoding":{"x":{"field":"a","type":"nominal","bandPosition":0},"x2":{"field":"b"},"y":{"datum":-5.2}}},
   {"data":{"name":"grp"},"mark":{"type":"text","fontSize":10.5,"color":"#222"},"encoding":{"x":{"field":"c","type":"nominal"},"y":{"datum":-6.7},"text":{"field":"d"}}}
  ]}]},
  {"title":{"text":"C","anchor":"start","frame":"bounds","offset":-14,"fontSize":15,"fontWeight":"bold"},"vconcat":[{"title":{"text":"Tnf","fontStyle":"italic","fontSize":16,"fontWeight":"normal","offset":14},"width":237,"height":153,"layer":[
   {"data":{"name":"bars"},"transform":[{"filter":"datum.p=='C'"}],"mark":{"type":"bar","stroke":"#222","strokeWidth":1.3},"encoding":{"x":{"field":"k","type":"nominal","scale":{"domain":["7|Sh","7|WT","7|IL","10|Sh","10|WT","10|IL","14|Sh","14|WT","14|IL"],"paddingInner":0.28,"paddingOuter":0.17},"axis":{"title":"Time after SNI (days)","labelExpr":"split(datum.value,'|')[1]=='IL' ? 'IL-27⁻/⁻' : split(datum.value,'|')[1]"}},"y":{"field":"m","type":"quantitative","scale":{"domain":[0,3],"nice":false},"axis":{"values":[0,1,2,3],"tickCount":4,"labelOverlap":false,"format":".1f","title":["mRNA expression in DRG","(normalized to Gapdh)"]}},"color":{"field":"g","type":"nominal","scale":{"domain":["Sh","WT","IL"],"range":["#e6e6e6","#ebe2c6","#ebe2c6"]},"legend":null}}},
   {"data":{"name":"bars"},"transform":[{"filter":"datum.p=='C'"}],"mark":{"type":"rule","color":"#222","strokeWidth":1.3},"encoding":{"x":{"field":"k","type":"nominal"},"y":{"field":"lo","type":"quantitative"},"y2":{"field":"hi"}}},
   {"data":{"name":"bars"},"transform":[{"filter":"datum.p=='C'"}],"mark":{"type":"tick","size":9,"thickness":1.3,"color":"#222"},"encoding":{"x":{"field":"k","type":"nominal"},"y":{"field":"lo","type":"quantitative"}}},
   {"data":{"name":"bars"},"transform":[{"filter":"datum.p=='C'"}],"mark":{"type":"tick","size":9,"thickness":1.3,"color":"#222"},"encoding":{"x":{"field":"k","type":"nominal"},"y":{"field":"hi","type":"quantitative"}}},
   {"data":{"name":"pts"},"transform":[{"filter":"datum.p=='C'"}],"mark":{"type":"point","filled":true,"size":38,"stroke":"#111","strokeWidth":0.9,"opacity":1},"encoding":{"x":{"field":"k","type":"nominal"},"xOffset":{"field":"r","type":"ordinal","scale":{"domain":[1,2,3,4,5,6,7],"paddingInner":0,"paddingOuter":0}},"y":{"field":"v","type":"quantitative"},"fill":{"field":"g","type":"nominal","scale":{"domain":["Sh","WT","IL"],"range":["#000000","#8a1a4a","#8a1a4a"]},"legend":null},"shape":{"field":"g","type":"nominal","scale":{"domain":["Sh","WT","IL"],"range":["circle","square","square"]},"legend":null}}},
   {"data":{"name":"grp"},"mark":{"type":"rule","color":"#222","strokeWidth":1.2},"encoding":{"x":{"field":"a","type":"nominal","bandPosition":0},"x2":{"field":"b"},"y":{"datum":-0.78}}},
   {"data":{"name":"grp"},"mark":{"type":"text","fontSize":10.5,"color":"#222"},"encoding":{"x":{"field":"c","type":"nominal"},"y":{"datum":-1.0},"text":{"field":"d"}}}
  ]}]}
 ]},
  {"title":{"text":"D","anchor":"start","frame":"bounds","offset":-14,"fontSize":15,"fontWeight":"bold"},"vconcat":[{"title":{"text":"Il1b","fontStyle":"italic","fontSize":16,"fontWeight":"normal","offset":14},"width":237,"height":153,"layer":[
   {"data":{"name":"bars"},"transform":[{"filter":"datum.p=='D'"}],"mark":{"type":"bar","stroke":"#222","strokeWidth":1.3},"encoding":{"x":{"field":"k","type":"nominal","scale":{"domain":["7|Sh","7|WT","7|IL","10|Sh","10|WT","10|IL","14|Sh","14|WT","14|IL"],"paddingInner":0.28,"paddingOuter":0.17},"axis":{"title":"Time after SNI (days)","labelExpr":"split(datum.value,'|')[1]=='IL' ? 'IL-27⁻/⁻' : split(datum.value,'|')[1]"}},"y":{"field":"m","type":"quantitative","scale":{"domain":[0,8],"nice":false},"axis":{"values":[0,2,4,6,8],"tickCount":5,"labelOverlap":false,"format":".1f","title":["mRNA expression in DRG","(normalized to Gapdh)"]}},"color":{"field":"g","type":"nominal","scale":{"domain":["Sh","WT","IL"],"range":["#e6e6e6","#cde0f6","#cde0f6"]},"legend":null}}},
   {"data":{"name":"bars"},"transform":[{"filter":"datum.p=='D'"}],"mark":{"type":"rule","color":"#222","strokeWidth":1.3},"encoding":{"x":{"field":"k","type":"nominal"},"y":{"field":"lo","type":"quantitative"},"y2":{"field":"hi"}}},
   {"data":{"name":"bars"},"transform":[{"filter":"datum.p=='D'"}],"mark":{"type":"tick","size":9,"thickness":1.3,"color":"#222"},"encoding":{"x":{"field":"k","type":"nominal"},"y":{"field":"lo","type":"quantitative"}}},
   {"data":{"name":"bars"},"transform":[{"filter":"datum.p=='D'"}],"mark":{"type":"tick","size":9,"thickness":1.3,"color":"#222"},"encoding":{"x":{"field":"k","type":"nominal"},"y":{"field":"hi","type":"quantitative"}}},
   {"data":{"name":"pts"},"transform":[{"filter":"datum.p=='D'"}],"mark":{"type":"point","filled":true,"size":38,"stroke":"#111","strokeWidth":0.9,"opacity":1},"encoding":{"x":{"field":"k","type":"nominal"},"xOffset":{"field":"r","type":"ordinal","scale":{"domain":[1,2,3,4,5,6,7],"paddingInner":0,"paddingOuter":0}},"y":{"field":"v","type":"quantitative"},"fill":{"field":"g","type":"nominal","scale":{"domain":["Sh","WT","IL"],"range":["#000000","#164c5a","#164c5a"]},"legend":null},"shape":{"field":"g","type":"nominal","scale":{"domain":["Sh","WT","IL"],"range":["circle","square","square"]},"legend":null}}},
   {"data":{"name":"grp"},"mark":{"type":"rule","color":"#222","strokeWidth":1.2},"encoding":{"x":{"field":"a","type":"nominal","bandPosition":0},"x2":{"field":"b"},"y":{"datum":-2.09}}},
   {"data":{"name":"grp"},"mark":{"type":"text","fontSize":10.5,"color":"#222"},"encoding":{"x":{"field":"c","type":"nominal"},"y":{"datum":-2.67},"text":{"field":"d"}}}
  ]}]}
 ]},
{"width":2,"height":1135,"data":{"values":[{"s":"|"}]},"mark":{"type":"rule","strokeDash":[7,4],"strokeWidth":2,"color":"#111"},"encoding":{"x":{"field":"s","type":"nominal","axis":null},"y":{"datum":1.04,"type":"quantitative","scale":{"domain":[0,1]},"axis":null},"y2":{"datum":0}}},
{"title":{"text":"SC","fontSize":18,"fontWeight":"bold","anchor":"middle","offset":22},
 "spacing":33,
 "resolve":{"scale":{"color":"independent","fill":"independent","shape":"independent"}},
 "vconcat":[
 {"spacing":58,"resolve":{"scale":{"color":"independent","fill":"independent","shape":"independent"}},"vconcat":[
  {"title":{"text":"E","anchor":"start","frame":"bounds","offset":-14,"fontSize":15,"fontWeight":"bold"},"vconcat":[{"title":{"text":"Aif1","fontStyle":"italic","fontSize":16,"fontWeight":"normal","offset":14},"width":237,"height":153,"layer":[
   {"data":{"name":"bars"},"transform":[{"filter":"datum.p=='E'"}],"mark":{"type":"bar","stroke":"#222","strokeWidth":1.3},"encoding":{"x":{"field":"k","type":"nominal","scale":{"domain":["7|Sh","7|WT","7|IL","10|Sh","10|WT","10|IL","14|Sh","14|WT","14|IL"],"paddingInner":0.28,"paddingOuter":0.17},"axis":{"title":"Time after SNI (days)","labelExpr":"split(datum.value,'|')[1]=='IL' ? 'IL-27⁻/⁻' : split(datum.value,'|')[1]"}},"y":{"field":"m","type":"quantitative","scale":{"domain":[0,4],"nice":false},"axis":{"values":[0,1,2,3,4],"tickCount":5,"labelOverlap":false,"format":".1f","title":["mRNA expression in SC","(normalized to Gapdh)"]}},"color":{"field":"g","type":"nominal","scale":{"domain":["Sh","WT","IL"],"range":["#e6e6e6","#fdfadb","#fdfadb"]},"legend":null}}},
   {"data":{"name":"bars"},"transform":[{"filter":"datum.p=='E'"}],"mark":{"type":"rule","color":"#222","strokeWidth":1.3},"encoding":{"x":{"field":"k","type":"nominal"},"y":{"field":"lo","type":"quantitative"},"y2":{"field":"hi"}}},
   {"data":{"name":"bars"},"transform":[{"filter":"datum.p=='E'"}],"mark":{"type":"tick","size":9,"thickness":1.3,"color":"#222"},"encoding":{"x":{"field":"k","type":"nominal"},"y":{"field":"lo","type":"quantitative"}}},
   {"data":{"name":"bars"},"transform":[{"filter":"datum.p=='E'"}],"mark":{"type":"tick","size":9,"thickness":1.3,"color":"#222"},"encoding":{"x":{"field":"k","type":"nominal"},"y":{"field":"hi","type":"quantitative"}}},
   {"data":{"name":"pts"},"transform":[{"filter":"datum.p=='E'"}],"mark":{"type":"point","filled":true,"size":38,"stroke":"#111","strokeWidth":0.9,"opacity":1},"encoding":{"x":{"field":"k","type":"nominal"},"xOffset":{"field":"r","type":"ordinal","scale":{"domain":[1,2,3,4,5,6,7],"paddingInner":0,"paddingOuter":0}},"y":{"field":"v","type":"quantitative"},"fill":{"field":"g","type":"nominal","scale":{"domain":["Sh","WT","IL"],"range":["#000000","#7e7a1e","#7e7a1e"]},"legend":null},"shape":{"field":"g","type":"nominal","scale":{"domain":["Sh","WT","IL"],"range":["circle","square","square"]},"legend":null}}},
   {"data":{"name":"grp"},"mark":{"type":"rule","color":"#222","strokeWidth":1.2},"encoding":{"x":{"field":"a","type":"nominal","bandPosition":0},"x2":{"field":"b"},"y":{"datum":-1.05}}},
   {"data":{"name":"grp"},"mark":{"type":"text","fontSize":10.5,"color":"#222"},"encoding":{"x":{"field":"c","type":"nominal"},"y":{"datum":-1.33},"text":{"field":"d"}}}
  ]}]},
  {"title":{"text":"F","anchor":"start","frame":"bounds","offset":-14,"fontSize":15,"fontWeight":"bold"},"vconcat":[{"title":{"text":"Gfap","fontStyle":"italic","fontSize":16,"fontWeight":"normal","offset":14},"width":237,"height":153,"layer":[
   {"data":{"name":"bars"},"transform":[{"filter":"datum.p=='F'"}],"mark":{"type":"bar","stroke":"#222","strokeWidth":1.3},"encoding":{"x":{"field":"k","type":"nominal","scale":{"domain":["7|Sh","7|WT","7|IL","10|Sh","10|WT","10|IL","14|Sh","14|WT","14|IL"],"paddingInner":0.28,"paddingOuter":0.17},"axis":{"title":"Time after SNI (days)","labelExpr":"split(datum.value,'|')[1]=='IL' ? 'IL-27⁻/⁻' : split(datum.value,'|')[1]"}},"y":{"field":"m","type":"quantitative","scale":{"domain":[0,3],"nice":false},"axis":{"values":[0,1,2,3],"tickCount":4,"labelOverlap":false,"format":".1f","title":["mRNA expression in SC","(normalized to Gapdh)"]}},"color":{"field":"g","type":"nominal","scale":{"domain":["Sh","WT","IL"],"range":["#e6e6e6","#d3f5d0","#d3f5d0"]},"legend":null}}},
   {"data":{"name":"bars"},"transform":[{"filter":"datum.p=='F'"}],"mark":{"type":"rule","color":"#222","strokeWidth":1.3},"encoding":{"x":{"field":"k","type":"nominal"},"y":{"field":"lo","type":"quantitative"},"y2":{"field":"hi"}}},
   {"data":{"name":"bars"},"transform":[{"filter":"datum.p=='F'"}],"mark":{"type":"tick","size":9,"thickness":1.3,"color":"#222"},"encoding":{"x":{"field":"k","type":"nominal"},"y":{"field":"lo","type":"quantitative"}}},
   {"data":{"name":"bars"},"transform":[{"filter":"datum.p=='F'"}],"mark":{"type":"tick","size":9,"thickness":1.3,"color":"#222"},"encoding":{"x":{"field":"k","type":"nominal"},"y":{"field":"hi","type":"quantitative"}}},
   {"data":{"name":"pts"},"transform":[{"filter":"datum.p=='F'"}],"mark":{"type":"point","filled":true,"size":38,"stroke":"#111","strokeWidth":0.9,"opacity":1},"encoding":{"x":{"field":"k","type":"nominal"},"xOffset":{"field":"r","type":"ordinal","scale":{"domain":[1,2,3,4,5,6,7],"paddingInner":0,"paddingOuter":0}},"y":{"field":"v","type":"quantitative"},"fill":{"field":"g","type":"nominal","scale":{"domain":["Sh","WT","IL"],"range":["#000000","#1f7a22","#1f7a22"]},"legend":null},"shape":{"field":"g","type":"nominal","scale":{"domain":["Sh","WT","IL"],"range":["circle","square","square"]},"legend":null}}},
   {"data":{"name":"grp"},"mark":{"type":"rule","color":"#222","strokeWidth":1.2},"encoding":{"x":{"field":"a","type":"nominal","bandPosition":0},"x2":{"field":"b"},"y":{"datum":-0.78}}},
   {"data":{"name":"grp"},"mark":{"type":"text","fontSize":10.5,"color":"#222"},"encoding":{"x":{"field":"c","type":"nominal"},"y":{"datum":-1.0},"text":{"field":"d"}}}
  ]}]},
  {"title":{"text":"G","anchor":"start","frame":"bounds","offset":-14,"fontSize":15,"fontWeight":"bold"},"vconcat":[{"title":{"text":"Tnf","fontStyle":"italic","fontSize":16,"fontWeight":"normal","offset":14},"width":237,"height":153,"layer":[
   {"data":{"name":"bars"},"transform":[{"filter":"datum.p=='G'"}],"mark":{"type":"bar","stroke":"#222","strokeWidth":1.3},"encoding":{"x":{"field":"k","type":"nominal","scale":{"domain":["7|Sh","7|WT","7|IL","10|Sh","10|WT","10|IL","14|Sh","14|WT","14|IL"],"paddingInner":0.28,"paddingOuter":0.17},"axis":{"title":"Time after SNI (days)","labelExpr":"split(datum.value,'|')[1]=='IL' ? 'IL-27⁻/⁻' : split(datum.value,'|')[1]"}},"y":{"field":"m","type":"quantitative","scale":{"domain":[0,3],"nice":false},"axis":{"values":[0,1,2,3],"tickCount":4,"labelOverlap":false,"format":".1f","title":["mRNA expression in SC","(normalized to Gapdh)"]}},"color":{"field":"g","type":"nominal","scale":{"domain":["Sh","WT","IL"],"range":["#e6e6e6","#ebe2c6","#ebe2c6"]},"legend":null}}},
   {"data":{"name":"bars"},"transform":[{"filter":"datum.p=='G'"}],"mark":{"type":"rule","color":"#222","strokeWidth":1.3},"encoding":{"x":{"field":"k","type":"nominal"},"y":{"field":"lo","type":"quantitative"},"y2":{"field":"hi"}}},
   {"data":{"name":"bars"},"transform":[{"filter":"datum.p=='G'"}],"mark":{"type":"tick","size":9,"thickness":1.3,"color":"#222"},"encoding":{"x":{"field":"k","type":"nominal"},"y":{"field":"lo","type":"quantitative"}}},
   {"data":{"name":"bars"},"transform":[{"filter":"datum.p=='G'"}],"mark":{"type":"tick","size":9,"thickness":1.3,"color":"#222"},"encoding":{"x":{"field":"k","type":"nominal"},"y":{"field":"hi","type":"quantitative"}}},
   {"data":{"name":"pts"},"transform":[{"filter":"datum.p=='G'"}],"mark":{"type":"point","filled":true,"size":38,"stroke":"#111","strokeWidth":0.9,"opacity":1},"encoding":{"x":{"field":"k","type":"nominal"},"xOffset":{"field":"r","type":"ordinal","scale":{"domain":[1,2,3,4,5,6,7],"paddingInner":0,"paddingOuter":0}},"y":{"field":"v","type":"quantitative"},"fill":{"field":"g","type":"nominal","scale":{"domain":["Sh","WT","IL"],"range":["#000000","#8a1a4a","#8a1a4a"]},"legend":null},"shape":{"field":"g","type":"nominal","scale":{"domain":["Sh","WT","IL"],"range":["circle","square","square"]},"legend":null}}},
   {"data":{"name":"grp"},"mark":{"type":"rule","color":"#222","strokeWidth":1.2},"encoding":{"x":{"field":"a","type":"nominal","bandPosition":0},"x2":{"field":"b"},"y":{"datum":-0.78}}},
   {"data":{"name":"grp"},"mark":{"type":"text","fontSize":10.5,"color":"#222"},"encoding":{"x":{"field":"c","type":"nominal"},"y":{"datum":-1.0},"text":{"field":"d"}}}
  ]}]}
 ]},
  {"title":{"text":"H","anchor":"start","frame":"bounds","offset":-14,"fontSize":15,"fontWeight":"bold"},"vconcat":[{"title":{"text":"Il1b","fontStyle":"italic","fontSize":16,"fontWeight":"normal","offset":14},"width":237,"height":153,"layer":[
   {"data":{"name":"bars"},"transform":[{"filter":"datum.p=='H'"}],"mark":{"type":"bar","stroke":"#222","strokeWidth":1.3},"encoding":{"x":{"field":"k","type":"nominal","scale":{"domain":["7|Sh","7|WT","7|IL","10|Sh","10|WT","10|IL","14|Sh","14|WT","14|IL"],"paddingInner":0.28,"paddingOuter":0.17},"axis":{"title":"Time after SNI (days)","labelExpr":"split(datum.value,'|')[1]=='IL' ? 'IL-27⁻/⁻' : split(datum.value,'|')[1]"}},"y":{"field":"m","type":"quantitative","scale":{"domain":[0,5],"nice":false},"axis":{"values":[0,1,2,3,4,5],"tickCount":6,"labelOverlap":false,"format":".1f","title":["mRNA expression in SC","(normalized to Gapdh)"]}},"color":{"field":"g","type":"nominal","scale":{"domain":["Sh","WT","IL"],"range":["#e6e6e6","#cde0f6","#cde0f6"]},"legend":null}}},
   {"data":{"name":"bars"},"transform":[{"filter":"datum.p=='H'"}],"mark":{"type":"rule","color":"#222","strokeWidth":1.3},"encoding":{"x":{"field":"k","type":"nominal"},"y":{"field":"lo","type":"quantitative"},"y2":{"field":"hi"}}},
   {"data":{"name":"bars"},"transform":[{"filter":"datum.p=='H'"}],"mark":{"type":"tick","size":9,"thickness":1.3,"color":"#222"},"encoding":{"x":{"field":"k","type":"nominal"},"y":{"field":"lo","type":"quantitative"}}},
   {"data":{"name":"bars"},"transform":[{"filter":"datum.p=='H'"}],"mark":{"type":"tick","size":9,"thickness":1.3,"color":"#222"},"encoding":{"x":{"field":"k","type":"nominal"},"y":{"field":"hi","type":"quantitative"}}},
   {"data":{"name":"pts"},"transform":[{"filter":"datum.p=='H'"}],"mark":{"type":"point","filled":true,"size":38,"stroke":"#111","strokeWidth":0.9,"opacity":1},"encoding":{"x":{"field":"k","type":"nominal"},"xOffset":{"field":"r","type":"ordinal","scale":{"domain":[1,2,3,4,5,6,7],"paddingInner":0,"paddingOuter":0}},"y":{"field":"v","type":"quantitative"},"fill":{"field":"g","type":"nominal","scale":{"domain":["Sh","WT","IL"],"range":["#000000","#164c5a","#164c5a"]},"legend":null},"shape":{"field":"g","type":"nominal","scale":{"domain":["Sh","WT","IL"],"range":["circle","square","square"]},"legend":null}}},
   {"data":{"name":"grp"},"mark":{"type":"rule","color":"#222","strokeWidth":1.2},"encoding":{"x":{"field":"a","type":"nominal","bandPosition":0},"x2":{"field":"b"},"y":{"datum":-1.31}}},
   {"data":{"name":"grp"},"mark":{"type":"text","fontSize":10.5,"color":"#222"},"encoding":{"x":{"field":"c","type":"nominal"},"y":{"datum":-1.67},"text":{"field":"d"}}}
  ]}]}
 ]}
],
"spacing":82
}
